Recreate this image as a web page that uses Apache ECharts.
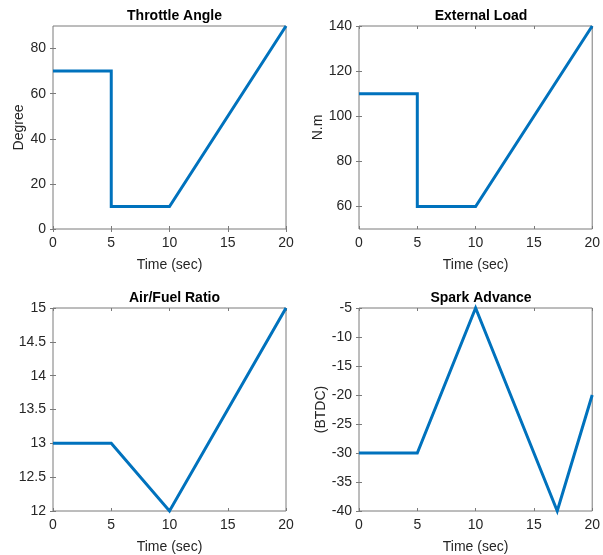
<!DOCTYPE html>
<html>
<head>
<meta charset="utf-8">
<script src="https://cdn.jsdelivr.net/npm/echarts@6/dist/echarts.min.js"></script>
<style>
html,body{margin:0;padding:0;background:#fff;}
#c{width:603px;height:555px;}
</style>
</head>
<body>
<div id="c"></div>
<script>
// ---- data ----
var titles = ['Throttle Angle', 'External Load', 'Air/Fuel Ratio', 'Spark Advance'];
var yNames = ['Degree', 'N.m', '', '(BTDC)'];
var xName = 'Time (sec)';
var xTicks = [0, 5, 10, 15, 20];

var throttleT = [0, 5, 5, 10, 20];
var throttleV = [70, 70, 10, 10, 90];
var loadT = [0, 5, 5, 10, 20];
var loadV = [110, 110, 60, 60, 140];
var afrT = [0, 5, 10, 20];
var afrV = [13, 13, 12, 15];
var sparkT = [0, 5, 10, 17, 20];
var sparkV = [-30, -30, -5, -40, -20];

var yRanges = [[0, 90], [50, 140], [12, 15], [-40, -5]];
var yTicks1 = [0, 20, 40, 60, 80];
var yTicks2 = [60, 80, 100, 120, 140];
var yTicks3 = [12, 12.5, 13, 13.5, 14, 14.5, 15];
var yTicks4 = [-40, -35, -30, -25, -20, -15, -10, -5];

// ---- build ----
var seriesT = [throttleT, loadT, afrT, sparkT];
var seriesV = [throttleV, loadV, afrV, sparkV];
var yTicks = [yTicks1, yTicks2, yTicks3, yTicks4];
var gridBoxes = [
  {left: 53, top: 26, width: 233, height: 203},
  {left: 359, top: 26, width: 234, height: 203},
  {left: 53, top: 308, width: 233, height: 203},
  {left: 359, top: 308, width: 234, height: 203}
];
var yNameGaps = [24, 27, 27, 27];
var FONT = 'Liberation Sans, Arial, sans-serif';
var TXT = '#262626';
var FRAME = '#7a7a7a';

var grid = [], xAxis = [], yAxis = [], series = [], title = [];
for (var i = 0; i < 4; i++) {
  var g = gridBoxes[i];
  grid.push({left: g.left, top: g.top, width: g.width, height: g.height,
    show: true, borderColor: FRAME, borderWidth: 1, backgroundColor: 'transparent', containLabel: false});
  title.push({text: titles[i], left: g.left + g.width / 2, top: g.top - 22, textAlign: 'center',
    textStyle: {fontFamily: FONT, fontSize: 14, fontWeight: 'bold', color: '#000'}});
  var tickStyle = {show: true, inside: true, length: 3, lineStyle: {color: FRAME, width: 1}};
  // primary x
  xAxis.push({type: 'value', gridIndex: i, min: 0, max: 20,
    axisLine: {show: false}, splitLine: {show: false},
    axisTick: Object.assign({customValues: xTicks}, tickStyle),
    axisLabel: {customValues: xTicks, margin: 7, color: TXT, fontFamily: FONT, fontSize: 14},
    name: xName, nameLocation: 'middle', nameGap: 29,
    nameTextStyle: {color: TXT, fontFamily: FONT, fontSize: 14}});
  // top ticks
  xAxis.push({type: 'value', gridIndex: i, min: 0, max: 20, position: 'top',
    axisLine: {show: false}, splitLine: {show: false},
    axisTick: Object.assign({customValues: xTicks}, tickStyle),
    axisLabel: {show: false}});
  // primary y
  yAxis.push({type: 'value', gridIndex: i, min: yRanges[i][0], max: yRanges[i][1],
    axisLine: {show: false}, splitLine: {show: false},
    axisTick: Object.assign({customValues: yTicks[i]}, tickStyle),
    axisLabel: {customValues: yTicks[i], margin: 7, color: TXT, fontFamily: FONT, fontSize: 14},
    name: yNames[i], nameLocation: 'middle', nameGap: yNameGaps[i],
    nameTextStyle: {color: TXT, fontFamily: FONT, fontSize: 14}});
  // right ticks
  yAxis.push({type: 'value', gridIndex: i, min: yRanges[i][0], max: yRanges[i][1], position: 'right',
    axisLine: {show: false}, splitLine: {show: false},
    axisTick: Object.assign({customValues: yTicks[i]}, tickStyle),
    axisLabel: {show: false}});
  var data = [];
  for (var k = 0; k < seriesT[i].length; k++) data.push([seriesT[i][k], seriesV[i][k]]);
  series.push({type: 'line', xAxisIndex: 2 * i, yAxisIndex: 2 * i, data: data,
    showSymbol: false, symbol: 'none', clip: false,
    lineStyle: {color: '#0072BD', width: 3, join: 'miter'}});
}

var chart = echarts.init(document.getElementById('c'), null, {renderer: 'canvas'});
chart.setOption({animation: false, backgroundColor: '#fff', title: title,
  grid: grid, xAxis: xAxis, yAxis: yAxis, series: series});
</script>
</body>
</html>
